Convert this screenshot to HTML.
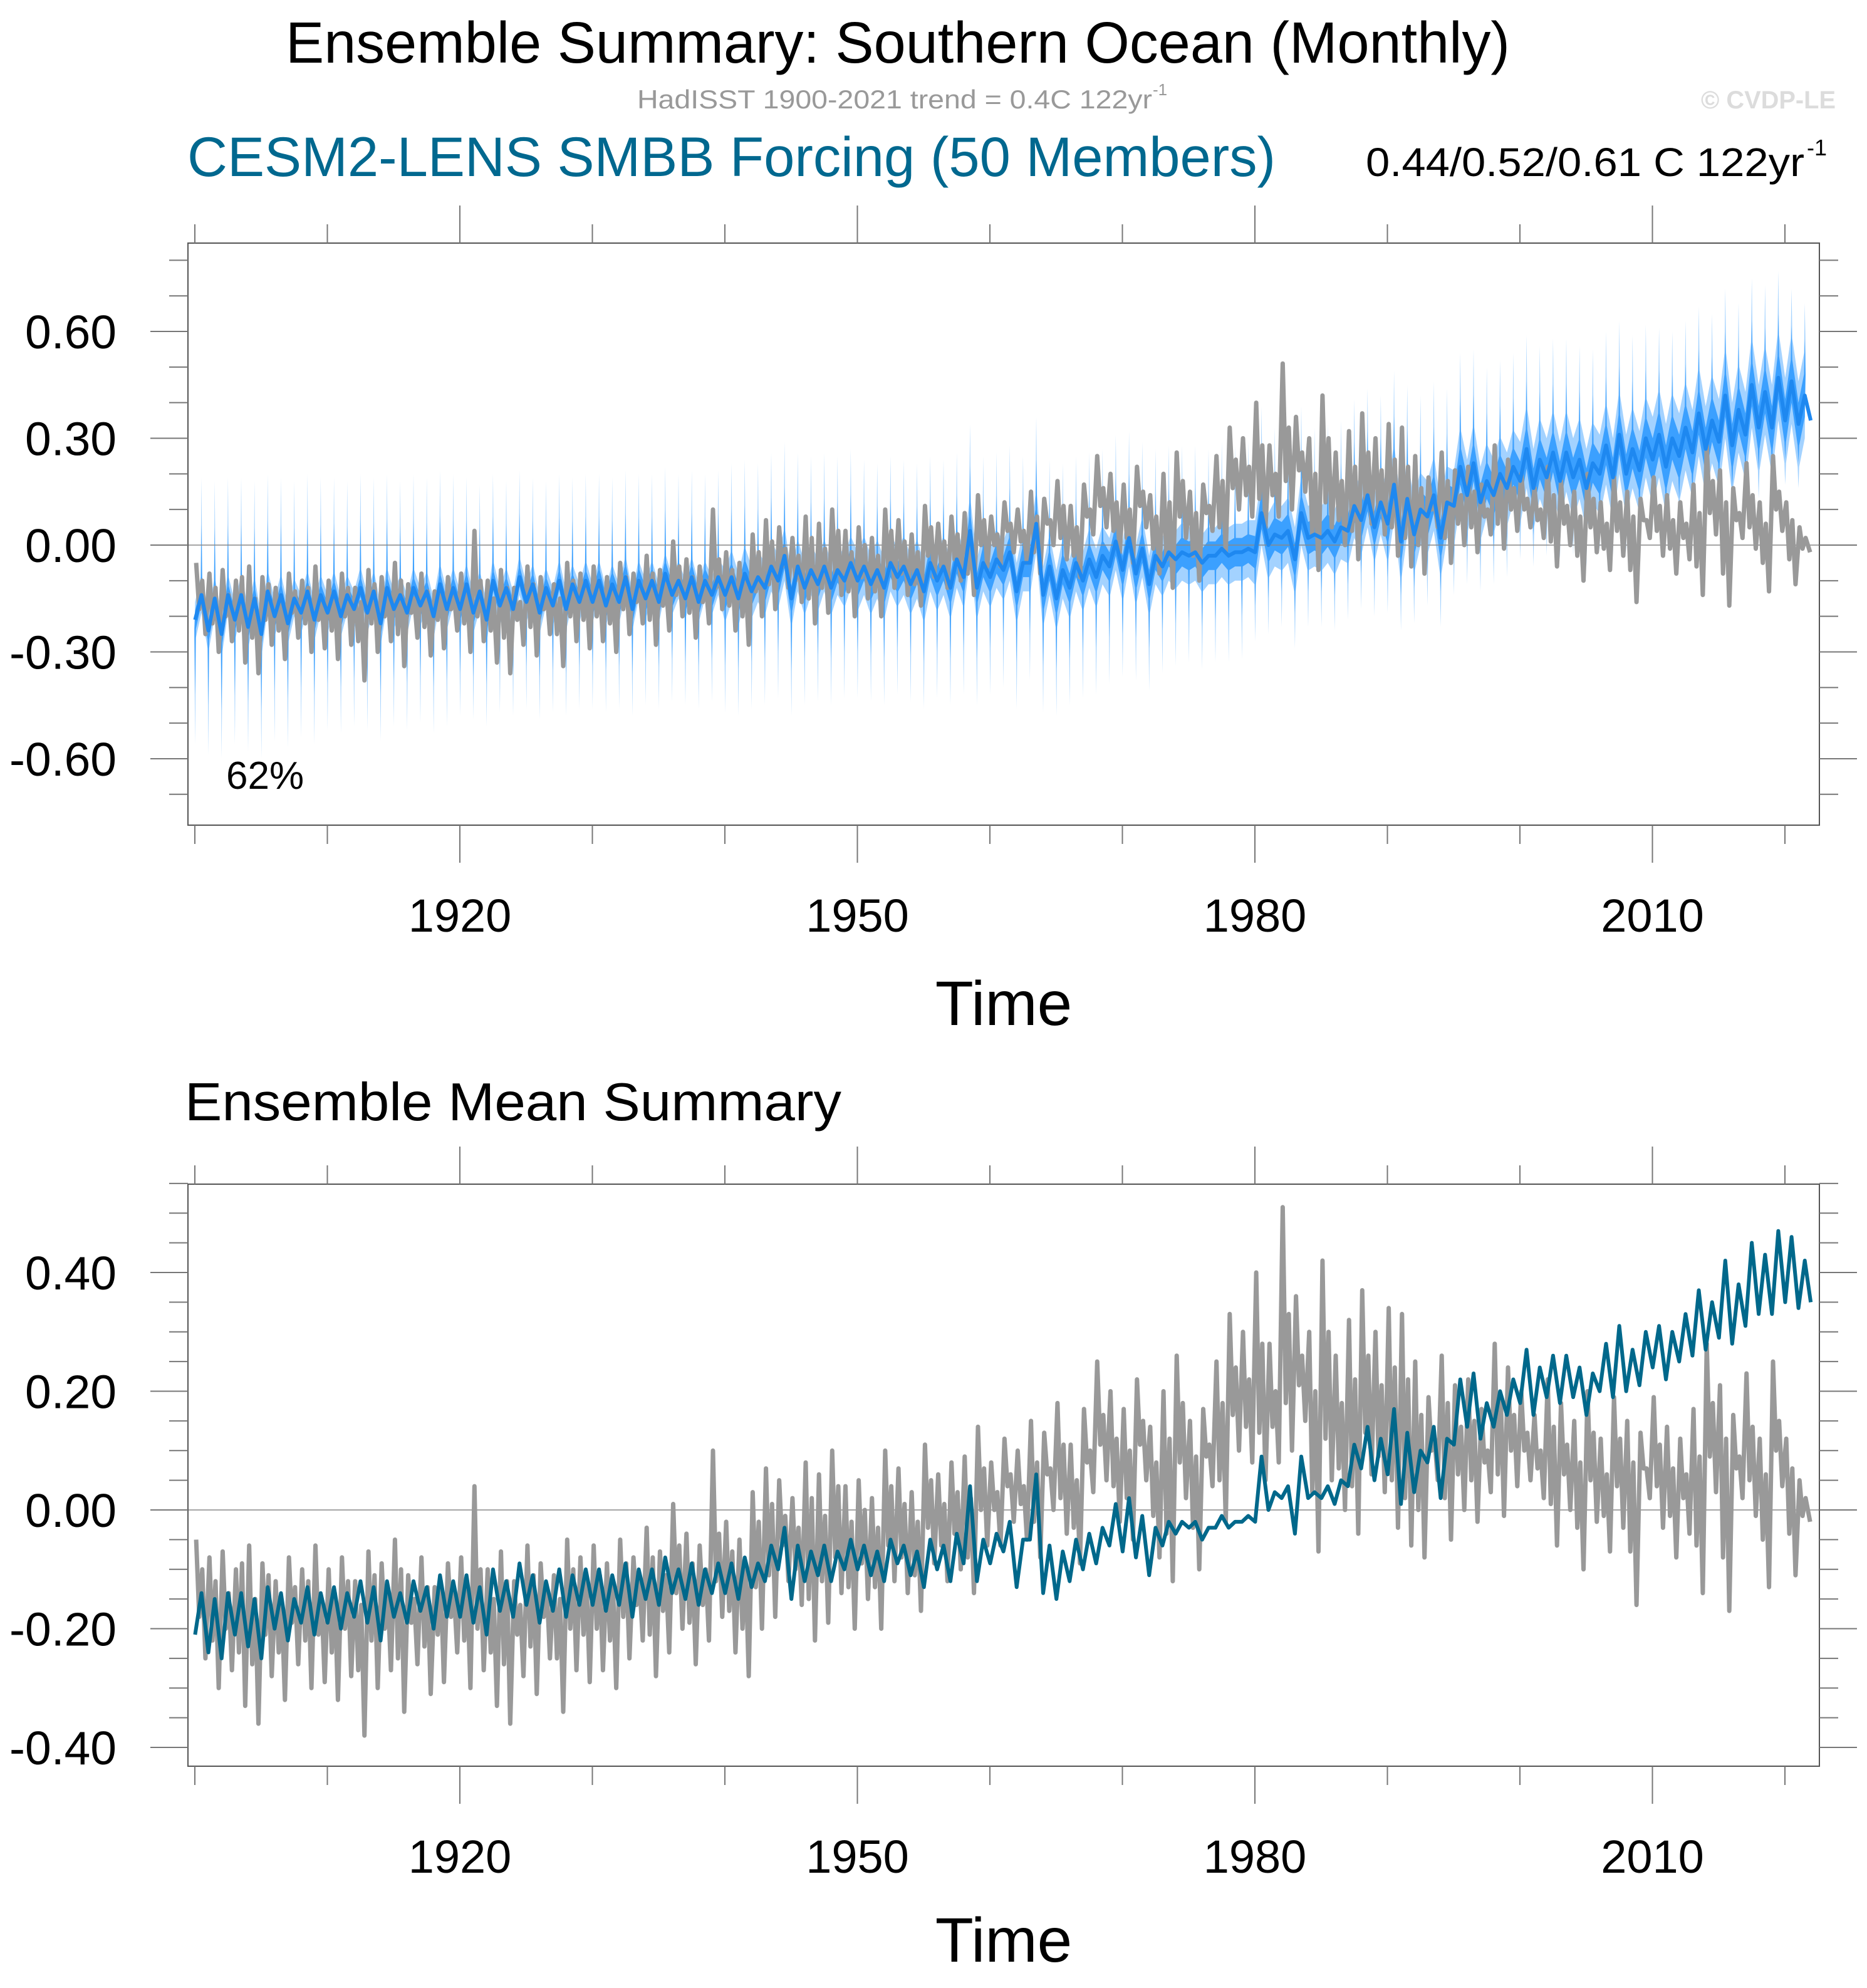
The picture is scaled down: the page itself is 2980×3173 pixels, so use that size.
<!DOCTYPE html>
<html><head><meta charset="utf-8"><style>
html,body{margin:0;padding:0;background:#fff}
svg{display:block}
text{font-family:"Liberation Sans",sans-serif}
</style></head><body>
<svg id="chart" xmlns="http://www.w3.org/2000/svg" width="2980" height="3173" viewBox="0 0 2980 3173">
<text x="456" y="100" font-size="93" textLength="1954" lengthAdjust="spacingAndGlyphs">Ensemble Summary: Southern Ocean (Monthly)</text>
<text x="1017" y="173" font-size="42" fill="#999" textLength="822" lengthAdjust="spacingAndGlyphs">HadISST 1900-2021 trend = 0.4C 122yr</text>
<text x="1840" y="152" font-size="26" fill="#999">-1</text>
<text x="2715" y="173" font-size="40" font-weight="bold" fill="#dcdcdc" textLength="215" lengthAdjust="spacingAndGlyphs">© CVDP-LE</text>
<text x="299" y="281" font-size="89" fill="#00688f" textLength="1737" lengthAdjust="spacingAndGlyphs">CESM2-LENS SMBB Forcing (50 Members)</text>
<text x="2180" y="281" font-size="64" textLength="700" lengthAdjust="spacingAndGlyphs">0.44/0.52/0.61 C 122yr</text>
<text x="2884" y="248" font-size="36">-1</text>
<text x="295" y="1788" font-size="85" textLength="1048" lengthAdjust="spacingAndGlyphs">Ensemble Mean Summary</text>
<g id="top"></g><g id="bot"></g>
</svg>
<script>
// Data (°C anomalies), one value per year 1900-2021
const years0 = 1900;
const ensHi = [-0.14,-0.15,-0.14,-0.14,-0.15,-0.13,-0.14,-0.15,-0.13,-0.14,
-0.13,-0.14,-0.12,-0.13,-0.12,-0.14,-0.12,-0.13,-0.11,-0.12,
-0.11,-0.13,-0.10,-0.12,-0.09,-0.11,-0.12,-0.10,-0.11,-0.10,
-0.10,-0.11,-0.09,-0.10,-0.10,-0.08,-0.10,-0.09,-0.10,-0.09,
-0.09,-0.08,-0.09,-0.06,-0.03,-0.06,-0.07,-0.06,-0.07,-0.05,
-0.06,-0.07,-0.05,-0.06,-0.07,-0.05,-0.06,-0.04,0.04,-0.05,
-0.04,-0.02,-0.05,0.06,-0.06,-0.07,-0.05,-0.04,-0.03,0.01,
0.02,-0.01,-0.03,-0.02,-0.02,-0.02,-0.03,-0.01,-0.02,-0.01,
0.09,0.03,0.04,0.09,0.03,0.04,0.05,0.11,0.14,0.12,
0.17,0.13,0.10,0.14,0.12,0.22,0.23,0.18,0.20,0.22,
0.27,0.24,0.26,0.26,0.24,0.23,0.28,0.31,0.27,0.30,
0.31,0.30,0.33,0.37,0.35,0.42,0.38,0.45,0.43,0.47,
0.46,0.42];
const ensLo = [-0.21,-0.24,-0.25,-0.21,-0.23,-0.25,-0.20,-0.22,-0.19,-0.21,
-0.19,-0.20,-0.18,-0.19,-0.22,-0.18,-0.19,-0.17,-0.20,-0.18,
-0.18,-0.19,-0.21,-0.17,-0.18,-0.16,-0.19,-0.17,-0.18,-0.16,
-0.16,-0.17,-0.16,-0.18,-0.15,-0.16,-0.14,-0.15,-0.16,-0.14,
-0.14,-0.15,-0.13,-0.12,-0.10,-0.15,-0.12,-0.11,-0.12,-0.10,
-0.10,-0.11,-0.12,-0.09,-0.11,-0.13,-0.10,-0.12,-0.09,-0.12,
-0.09,-0.07,-0.13,-0.05,-0.14,-0.15,-0.12,-0.10,-0.09,-0.06,
-0.07,-0.08,-0.11,-0.06,-0.04,-0.03,-0.05,-0.03,-0.03,-0.02,
-0.02,0.00,0.02,-0.04,0.02,0.02,0.01,0.04,0.07,0.05,
0.06,0.01,0.03,0.08,0.02,0.11,0.14,0.12,0.14,0.16,
0.18,0.16,0.19,0.18,0.19,0.16,0.20,0.19,0.20,0.21,
0.24,0.22,0.25,0.26,0.27,0.29,0.28,0.31,0.33,0.33,
0.35,0.34];
const obsHi = [-0.05,-0.08,-0.07,-0.10,-0.06,-0.09,-0.12,-0.08,-0.10,-0.06,
-0.10,-0.08,-0.12,-0.07,-0.09,-0.05,-0.11,-0.08,-0.13,-0.09,
-0.08,0.04,-0.10,-0.07,-0.12,-0.06,-0.09,-0.11,-0.05,-0.08,
-0.06,-0.09,-0.05,-0.08,-0.03,-0.07,0.01,-0.04,-0.06,0.10,
-0.02,-0.05,0.03,0.07,0.05,0.02,0.08,0.06,0.10,0.04,
0.05,0.02,0.10,0.07,0.03,0.11,0.06,0.08,0.09,0.14,
0.08,0.12,0.10,0.15,0.13,0.18,0.11,0.17,0.25,0.20,
0.17,0.22,0.14,0.20,0.26,0.15,0.17,0.25,0.33,0.30,
0.40,0.28,0.51,0.36,0.30,0.42,0.26,0.32,0.37,0.30,
0.34,0.33,0.25,0.19,0.26,0.21,0.22,0.17,0.28,0.24,
0.20,0.16,0.22,0.18,0.15,0.20,0.12,0.19,0.15,0.13,
0.19,0.14,0.12,0.17,0.28,0.21,0.16,0.23,0.12,0.25,
0.12,0.05];
const obsLo = [-0.25,-0.30,-0.27,-0.33,-0.36,-0.28,-0.32,-0.26,-0.30,-0.29,
-0.32,-0.28,-0.38,-0.30,-0.27,-0.34,-0.26,-0.31,-0.29,-0.24,
-0.30,-0.27,-0.33,-0.36,-0.28,-0.31,-0.25,-0.34,-0.27,-0.29,
-0.27,-0.30,-0.25,-0.22,-0.28,-0.24,-0.20,-0.26,-0.22,-0.18,
-0.24,-0.28,-0.20,-0.18,-0.12,-0.16,-0.22,-0.19,-0.14,-0.20,
-0.15,-0.20,-0.12,-0.14,-0.17,-0.09,-0.12,-0.10,-0.14,-0.06,
-0.06,-0.02,-0.05,-0.08,0.00,-0.04,-0.09,0.03,0.05,-0.02,
-0.05,0.05,-0.08,-0.12,0.02,-0.10,0.04,-0.02,0.10,0.08,
0.05,0.08,0.10,0.15,-0.07,0.05,0.00,-0.04,0.06,0.03,
-0.03,-0.06,-0.08,0.05,-0.05,0.00,-0.02,0.03,-0.01,0.04,
0.05,0.02,-0.06,0.00,-0.10,-0.02,-0.07,-0.03,-0.16,0.02,
-0.03,-0.08,-0.04,-0.14,0.03,-0.17,0.02,-0.01,-0.13,0.04,
-0.11,-0.02];
// secondary within-year excursions
const obsHi2 = [-0.10,-0.12,-0.14,-0.09,-0.15,-0.11,-0.16,-0.13,-0.12,-0.15,
-0.14,-0.12,-0.16,-0.11,-0.14,-0.10,-0.15,-0.13,-0.12,-0.14,
-0.13,-0.10,-0.15,-0.12,-0.16,-0.11,-0.13,-0.15,-0.10,-0.12,
-0.11,-0.13,-0.09,-0.12,-0.08,-0.11,-0.06,-0.09,-0.10,-0.04,
-0.07,-0.09,-0.02,0.01,-0.01,-0.03,0.02,-0.01,0.04,-0.02,
0.00,-0.03,0.04,0.01,-0.02,0.05,0.01,0.03,0.02,0.07,
0.03,0.06,0.04,0.08,0.07,0.11,0.05,0.10,0.16,0.12,
0.10,0.15,0.08,0.12,0.18,0.09,0.11,0.18,0.24,0.22,
0.28,0.20,0.33,0.26,0.20,0.30,0.18,0.22,0.26,0.21,
0.24,0.22,0.16,0.12,0.18,0.14,0.15,0.10,0.19,0.16,
0.13,0.10,0.14,0.11,0.08,0.13,0.06,0.12,0.08,0.07,
0.11,0.07,0.06,0.09,0.18,0.12,0.09,0.14,0.06,0.15,
0.07,0.02];
const obsLo2 = [-0.18,-0.22,-0.20,-0.24,-0.26,-0.21,-0.24,-0.19,-0.22,-0.21,
-0.24,-0.20,-0.27,-0.22,-0.20,-0.25,-0.19,-0.23,-0.21,-0.18,
-0.22,-0.20,-0.24,-0.26,-0.21,-0.23,-0.18,-0.25,-0.20,-0.21,
-0.20,-0.22,-0.18,-0.16,-0.21,-0.17,-0.14,-0.19,-0.16,-0.12,
-0.17,-0.20,-0.13,-0.11,-0.06,-0.10,-0.15,-0.12,-0.08,-0.13,
-0.09,-0.13,-0.06,-0.08,-0.11,-0.03,-0.06,-0.04,-0.08,0.00,
0.00,0.04,0.01,-0.02,0.06,0.02,-0.03,0.08,0.11,0.04,
0.02,0.11,-0.01,-0.04,0.08,-0.03,0.09,0.05,0.16,0.14,
0.13,0.14,0.18,0.21,0.03,0.12,0.07,0.04,0.13,0.09,
0.05,0.02,0.00,0.10,0.02,0.06,0.05,0.08,0.06,0.10,
0.10,0.07,0.01,0.06,-0.03,0.05,-0.01,0.04,-0.07,0.07,
0.04,-0.01,0.02,-0.06,0.09,-0.08,0.07,0.05,-0.05,0.10,
-0.04,-0.01];
// ensemble spread by decade (1900s..2020s)
const outerPad = [0.05,0.05,0.05,0.05,0.07,0.08,0.08,0.08,0.09,0.10,0.11,0.12,0.12];
const innerPad = [0.025,0.025,0.025,0.03,0.035,0.04,0.04,0.04,0.045,0.05,0.055,0.06,0.06];
const spikeUp = [0.33,0.32,0.30,0.30,0.32,0.30,0.30,0.30,0.30,0.32,0.32,0.30,0.26];
const spikeDown = [0.35,0.33,0.30,0.30,0.33,0.33,0.33,0.30,0.25,0.25,0.22,0.20,0.18];
const topYTicks = [-0.6,-0.3,0,0.3,0.6];
const topYLabels = ["-0.60","-0.30","0.00","0.30","0.60"];
const botYTicks = [-0.4,-0.2,0,0.2,0.4];
const botYLabels = ["-0.40","-0.20","0.00","0.20","0.40"];
const xMajor = [1920,1950,1980,2010];
const xMajorLabels = ["1920","1950","1980","2010"];

const NS="http://www.w3.org/2000/svg";
const X0=300,X1=2904;
const xs = t => 311 + (t-1900)*21.15;
function mk(tag,attrs,parent){const e=document.createElementNS(NS,tag);for(const k in attrs)e.setAttribute(k,attrs[k]);parent.appendChild(e);return e;}
function pts(arr){return arr.map(p=>p[0].toFixed(1)+","+p[1].toFixed(1)).join(" ");}

function panel(g,top,bottom,ys,vmin,vmax,majors,labels,minorStep,labY,timeY,isTop){
  const dec = i => Math.min(12,Math.floor(i/10));
  if(isTop){
    [[outerPad,1,"#a3d2ff","band-outer"],[innerPad,0.6,"#3ba0ff","band-inner"]].forEach(([pad,f,col,nm])=>{
      const up=[],lo=[];
      for(let i=0;i<ensHi.length;i++){
        const y=years0+i,d=dec(i);
        up.push([xs(y+0.02),ys(ensLo[i]+pad[d])],[xs(y+0.44),ys(ensHi[i]+pad[d])],[xs(y+0.5),ys(ensHi[i]+spikeUp[d]*f)],[xs(y+0.56),ys(ensHi[i]+pad[d])]);
        lo.push([xs(y-0.04),ys(ensLo[i]-pad[d])],[xs(y+0.02),ys(ensLo[i]-spikeDown[d]*f)],[xs(y+0.08),ys(ensLo[i]-pad[d])],[xs(y+0.5),ys(ensHi[i]-pad[d])]);
      }
      const poly=mk("polygon",{points:pts(up.concat(lo.reverse())),fill:col,stroke:"none"},g);
      
      
    });
  }
  const zl=mk("line",{x1:X0,x2:X1,y1:ys(0),y2:ys(0),stroke:"#888","stroke-width":1.5},g);
  
  
  const ob=[];
  for(let i=0;i<obsHi.length;i++){const y=years0+i;
    ob.push([xs(y+0.1),ys(obsHi[i])],[xs(y+0.33),ys(obsLo2[i])],[xs(y+0.56),ys(obsHi2[i])],[xs(y+0.8),ys(obsLo[i])]);}
  ob[ob.length-1][0]=xs(2021.9);
  const obl=mk("polyline",{points:pts(ob),fill:"none",stroke:"#999","stroke-width":7,"stroke-linejoin":"round"},g);
  
  
  const en=[];
  for(let i=0;i<ensHi.length;i++){const y=years0+i;en.push([xs(y+0.02),ys(ensLo[i])],[xs(y+0.5),ys(ensHi[i])]);}
  en.push([xs(2021.95),ys(0.35)]);
  const enl=mk("polyline",{points:pts(en),fill:"none",stroke:isTop?"#1e88f0":"#00688b","stroke-width":6,"stroke-linejoin":"round"},g);
  
  
  const fr=mk("rect",{x:X0,y:top,width:X1-X0,height:bottom-top,fill:"none",stroke:"#555","stroke-width":2},g);
  
  
  const nmin=Math.ceil(vmin/minorStep-1e-6),nmax=Math.floor(vmax/minorStep+1e-6);
  for(let n=nmin;n<=nmax;n++){
    const v=n*minorStep,y=ys(v);
    const isMaj=majors.some(m=>Math.abs(m-v)<1e-6);
    const L=isMaj?60:30;
    const t1=mk("line",{x1:X0-L,x2:X0,y1:y,y2:y,stroke:"#777","stroke-width":2},g);
    
    
    const t2=mk("line",{x1:X1,x2:X1+L,y1:y,y2:y,stroke:"#777","stroke-width":2},g);
    
    
  }
  majors.forEach((m,i)=>{
    const t=mk("text",{x:186,y:ys(m)+27,"font-size":75,"text-anchor":"end"},g);
    t.textContent=labels[i];
    
    
  });
  for(let yr=1900;yr<=2020;yr+=10){
    const x=xs(yr),isMaj=xMajor.includes(yr),L=isMaj?60:30;
    const a=mk("line",{x1:x,x2:x,y1:top-L,y2:top,stroke:"#777","stroke-width":2},g);
    
    
    const b=mk("line",{x1:x,x2:x,y1:bottom,y2:bottom+L,stroke:"#777","stroke-width":2},g);
    
    
  }
  xMajor.forEach((yr,i)=>{
    const t=mk("text",{x:xs(yr),y:labY,"font-size":74,"text-anchor":"middle"},g);
    t.textContent=xMajorLabels[i];
    
    
  });
  const tt=mk("text",{x:1602,y:timeY,"font-size":100,"text-anchor":"middle"},g);
  tt.textContent="Time";
  
  
}
const ysTop=v=>870-v*568.3;
const ysBot=v=>2410-v*947.5;
panel(document.getElementById("top"),388,1317,ysTop,-0.787,0.848,topYTicks,topYLabels,0.1,1487,1636,true);
panel(document.getElementById("bot"),1890,2819,ysBot,-0.432,0.55,botYTicks,botYLabels,0.05,2989,3131,false);
const pc=mk("text",{x:361,y:1259,"font-size":62},document.getElementById("top"));
pc.textContent="62%";


</script>
</body></html>
